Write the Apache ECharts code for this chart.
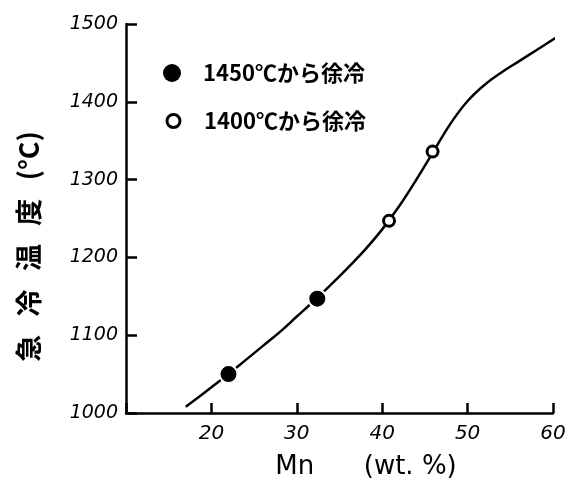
<!DOCTYPE html>
<html>
<head>
<meta charset="utf-8">
<script src="https://cdn.jsdelivr.net/npm/echarts@6/dist/echarts.min.js"></script>
<style>html,body{margin:0;padding:0;background:#fff}#c{width:572px;height:480px}</style>
</head>
<body>
<div id="c"></div>
<script>
// Data
const filledPoints = [[22.0, 1050], [32.4, 1147]];          // 1450℃から徐冷
const openPoints = [[40.8, 1247], [45.9, 1336]];            // 1400℃から徐冷
const curveX = [17, 20, 22, 24, 26, 28, 30, 32, 34, 36, 38, 40, 42, 44, 46, 48, 50, 52, 54, 56, 58, 60, 60.8];
const curveY = [1008, 1033, 1050, 1068, 1086, 1104, 1124, 1144, 1165, 1187, 1210, 1236, 1266, 1300, 1336, 1372, 1401, 1422, 1438, 1452, 1466, 1480, 1486];
const xTicks = [10, 20, 30, 40, 50, 60];
const yTicks = [1000, 1100, 1200, 1300, 1400, 1500];
const seriesNames = ['1450℃から徐冷', '1400℃から徐冷'];

const curve = curveX.map((x, i) => [x, curveY[i]]);
const font = "'DejaVu Sans', 'Noto Sans CJK JP', sans-serif";
const cjk = "'Noto Sans CJK JP', 'DejaVu Sans', sans-serif";
const legendText = {fontFamily: cjk, fontSize: 22, fontWeight: 'bold', color: '#000', lineHeight: 18};

const chart = echarts.init(document.getElementById('c'), null, {renderer: 'canvas'});
chart.setOption({
  animation: false,
  backgroundColor: '#fff',
  grid: {left: 126, right: 19, top: 24, bottom: 67, containLabel: false, outerBoundsMode: 'none'},
  legend: [
    {
      left: 163, top: 62, padding: 0,
      itemWidth: 18, itemHeight: 18,
      selectedMode: false,
      data: [{name: seriesNames[0], icon: 'circle'}],
      itemStyle: {borderWidth: 0},
      textStyle: Object.assign({padding: [0, 0, 0, 17]}, legendText)
    },
    {
      left: 165.5, top: 110, padding: 0,
      itemWidth: 13, itemHeight: 13,
      selectedMode: false,
      data: [{name: seriesNames[1], icon: 'circle'}],
      itemStyle: {color: '#fff', borderColor: '#000', borderWidth: 3},
      textStyle: Object.assign({padding: [0, 0, 0, 19]}, legendText)
    }
  ],
  xAxis: {
    type: 'value',
    min: xTicks[0], max: xTicks[xTicks.length - 1], interval: 10,
    name: 'Mn      (wt. %)',
    nameLocation: 'middle',
    nameGap: 41,
    nameTextStyle: {fontFamily: font, fontSize: 26, color: '#000', padding: [0, 0, 0, 53]},
    axisLine: {lineStyle: {color: '#000', width: 2.5}},
    axisTick: {inside: true, length: 10, lineStyle: {color: '#000', width: 2.5}},
    axisLabel: {fontFamily: font, fontSize: 20, fontStyle: 'italic', color: '#000', margin: 11,
      formatter: v => (v === xTicks[0] ? '' : String(v))},
    splitLine: {show: false}
  },
  yAxis: {
    type: 'value',
    min: yTicks[0], max: yTicks[yTicks.length - 1], interval: 100,
    name: '急   冷   温   度   (°C)',
    nameLocation: 'middle',
    nameGap: 84,
    nameRotate: 90,
    nameTextStyle: {fontFamily: cjk, fontSize: 27, fontWeight: 'bold', color: '#000', padding: [0, 56, 0, 0]},
    axisLine: {show: true, lineStyle: {color: '#000', width: 2.5}},
    axisTick: {show: true, inside: true, length: 11, lineStyle: {color: '#000', width: 2.5}},
    axisLabel: {fontFamily: font, fontSize: 19, fontStyle: 'italic', color: '#000', margin: 8,
      formatter: v => String(v)},
    splitLine: {show: false}
  },
  series: [
    {
      name: 'curve',
      type: 'line',
      data: curve,
      smooth: 0.4,
      showSymbol: false,
      clip: false,
      lineStyle: {color: '#000', width: 2.5},
      z: 1,
      silent: true
    },
    {
      name: seriesNames[0],
      type: 'scatter',
      data: filledPoints,
      symbol: 'circle',
      symbolSize: 18,
      itemStyle: {color: '#000', borderColor: '#fff', borderWidth: 2, opacity: 1},
      z: 3
    },
    {
      name: seriesNames[1],
      type: 'scatter',
      data: openPoints,
      symbol: 'circle',
      symbolSize: 11,
      itemStyle: {color: '#fff', borderColor: '#000', borderWidth: 3, opacity: 1},
      z: 3
    }
  ]
});
</script>
</body>
</html>
